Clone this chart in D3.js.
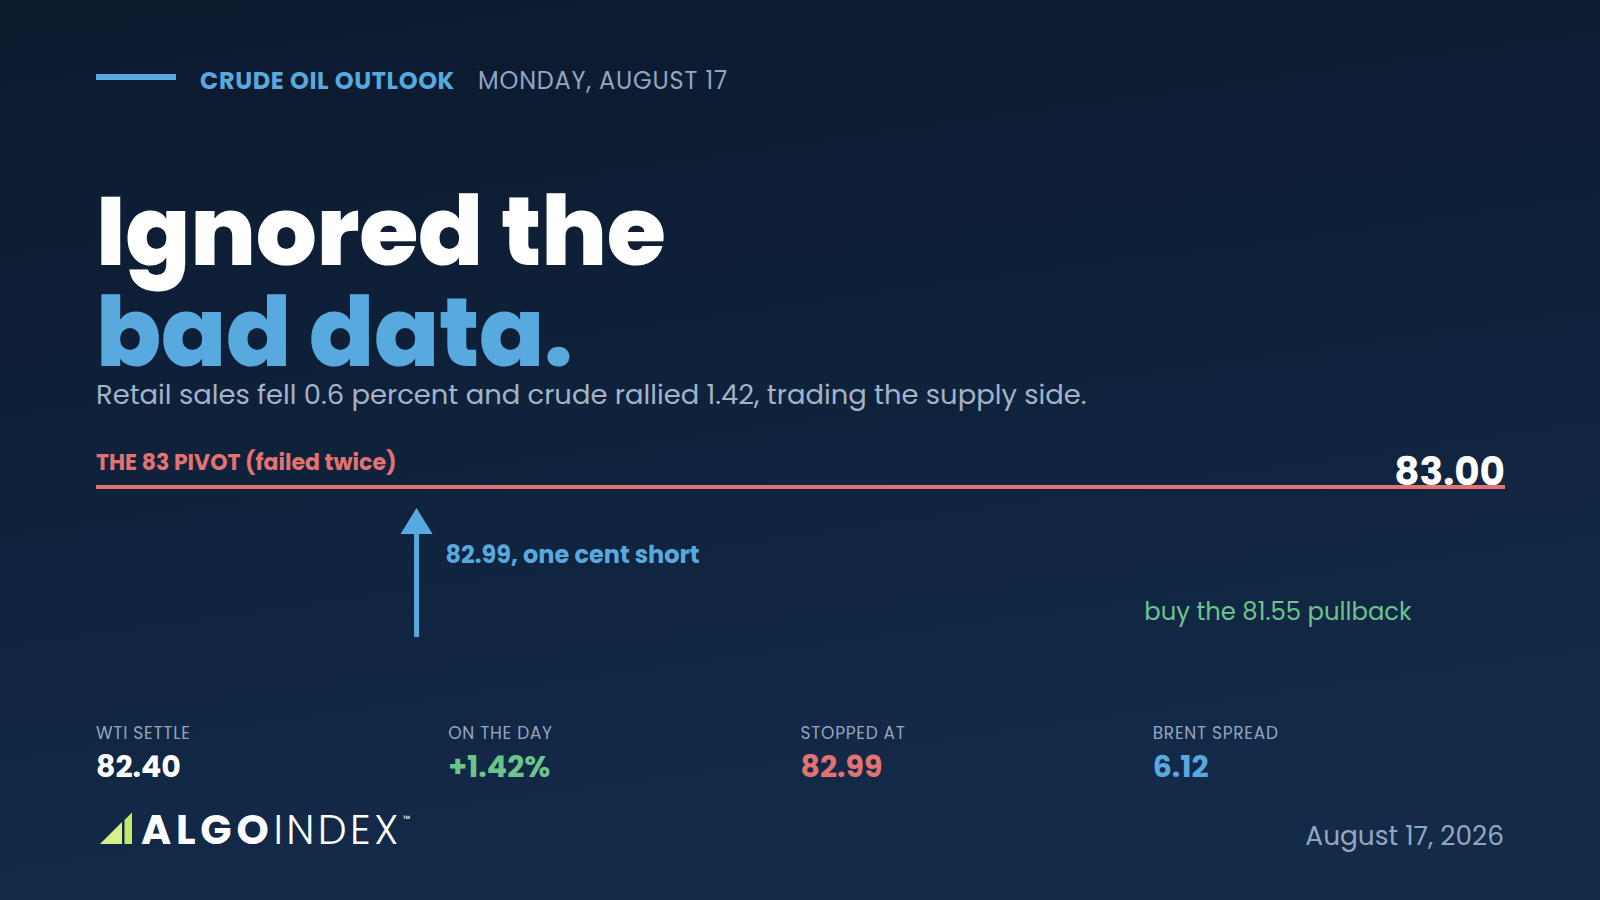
<!DOCTYPE html>
<html>
<head>
<meta charset="utf-8">
<script src="https://cdn.jsdelivr.net/npm/d3@7"></script>
<style>
  html, body { margin: 0; padding: 0; background: #0c1a2e; }
  svg { display: block; }
  text { font-family: "Poppins", "Inter", "Lato", sans-serif; }
</style>
</head>
<body>
<script>
// card content
var kicker = "CRUDE OIL OUTLOOK";
var dateline = "MONDAY, AUGUST 17";
var headline = ["Ignored the", "bad data."];
var dek = "Retail sales fell 0.6 percent and crude rallied 1.42, trading the supply side.";

// price levels
var pivotLevel = 83.00;
var pivotLabel = "THE 83 PIVOT (failed twice)";
var stopLevel = 82.99;
var stopLabel = "82.99, one cent short";
var pullbackLevel = 81.55;
var pullbackLabel = "buy the 81.55 pullback";
var priceDomain = [81.4, 83.0];
// where the annotations sit along the session (0-100)
var stopAt = 22.75;
var pullbackAt = 74.4;

// stat strip
var statLabels = ["WTI SETTLE", "ON THE DAY", "STOPPED AT", "BRENT SPREAD"];
var statValues = ["82.40", "+1.42%", "82.99", "6.12"];

var footDate = "August 17, 2026";

var _width = 1600, _height = 900,
    _margins = {left: 96, right: 95},
    blue = "#58a9de", coral = "#e37370", green = "#6cc48c",
    muted = "#93a6c0";

var svg = d3.select("body").append("svg")
    .attr("width", _width)
    .attr("height", _height);

var defs = svg.append("defs");
var grad = defs.append("linearGradient")
    .attr("id", "bg")
    .attr("x1", 0).attr("y1", 0).attr("x2", 0.25).attr("y2", 1);
grad.append("stop").attr("offset", "0%").attr("stop-color", "#0b192d");
grad.append("stop").attr("offset", "100%").attr("stop-color", "#132a49");

svg.append("rect")
    .attr("width", _width)
    .attr("height", _height)
    .attr("fill", "url(#bg)");

// header
svg.append("rect")
    .attr("x", _margins.left).attr("y", 74)
    .attr("width", 80).attr("height", 6)
    .attr("fill", blue);

svg.append("text")
    .attr("x", 200).attr("y", 89)
    .attr("font-size", 24).attr("font-weight", 700)
    .attr("letter-spacing", 0.6)
    .attr("fill", blue)
    .text(kicker);

svg.append("text")
    .attr("x", 478).attr("y", 89)
    .attr("font-size", 24).attr("font-weight", 400)
    .attr("letter-spacing", 0.8)
    .attr("fill", muted)
    .text(dateline);

// headline
svg.append("text")
    .attr("x", 96).attr("y", 265)
    .attr("font-size", 96).attr("font-weight", 800)
    .attr("letter-spacing", -0.3)
    .attr("fill", "#ffffff")
    .text(headline[0]);

svg.append("text")
    .attr("x", 96).attr("y", 366)
    .attr("font-size", 96).attr("font-weight", 800)
    .attr("letter-spacing", -0.3)
    .attr("fill", blue)
    .text(headline[1]);

svg.append("text")
    .attr("x", _margins.left).attr("y", 404)
    .attr("font-size", 27.4).attr("font-weight", 400)
    .attr("fill", "#a3b3c8")
    .text(dek);

// price scale
var x = d3.scaleLinear()
    .domain([0, 100])
    .range([_margins.left, _width - _margins.right]);

var y = d3.scaleLinear()
    .domain(priceDomain)
    .range([637, 487]);

var chartG = svg.append("g").attr("class", "levels");

chartG.append("line")
    .attr("x1", x(0)).attr("x2", x(100))
    .attr("y1", y(pivotLevel)).attr("y2", y(pivotLevel))
    .attr("stroke", coral)
    .attr("stroke-width", 4);

chartG.append("text")
    .attr("x", x(0)).attr("y", y(pivotLevel) - 17)
    .attr("font-size", 22).attr("font-weight", 700)
    .attr("fill", coral)
    .text(pivotLabel);

chartG.append("text")
    .attr("x", x(100)).attr("y", y(pivotLevel) - 2)
    .attr("text-anchor", "end")
    .attr("font-size", 39).attr("font-weight", 700)
    .attr("fill", "#ffffff")
    .text(d3.format(".2f")(pivotLevel));

// arrow up to the stop level
var arrowX = x(stopAt),
    tipY = y(stopLevel) + 20,
    baseY = y(priceDomain[0]),
    headH = 26, headW = 32;

chartG.append("rect")
    .attr("x", arrowX - 2.5).attr("y", tipY + headH - 1)
    .attr("width", 5).attr("height", baseY - tipY - headH + 1)
    .attr("fill", blue);

chartG.append("path")
    .attr("d", d3.line()([
        [arrowX - headW / 2, tipY + headH],
        [arrowX, tipY],
        [arrowX + headW / 2, tipY + headH]
    ]) + "Z")
    .attr("fill", blue);

chartG.append("text")
    .attr("x", arrowX + 29).attr("y", tipY + 55)
    .attr("font-size", 24).attr("font-weight", 700)
    .attr("fill", blue)
    .text(stopLabel);

chartG.append("text")
    .attr("x", x(pullbackAt)).attr("y", y(pullbackLevel) - 3)
    .attr("font-size", 24.3).attr("font-weight", 400)
    .attr("fill", green)
    .text(pullbackLabel);

// stat strip
var statColors = ["#ffffff", green, coral, blue];
var band = d3.scaleBand()
    .domain(statLabels)
    .range([_margins.left, _width - _margins.right]);

var stat = svg.append("g").attr("class", "stats")
    .selectAll("g")
    .data(statLabels)
    .enter().append("g")
    .attr("transform", function (d) {
        return "translate(" + band(d) + ",0)";
    });

stat.append("text")
    .attr("y", 739)
    .attr("font-size", 17).attr("font-weight", 400)
    .attr("letter-spacing", 0.7)
    .attr("fill", muted)
    .text(function (d) { return d; });

stat.append("text")
    .attr("y", 777)
    .attr("font-size", 30).attr("font-weight", 700)
    .attr("fill", function (d, i) { return statColors[i]; })
    .text(function (d, i) { return statValues[i]; });

// logo
var logo = svg.append("g").attr("class", "logo");
logo.append("path")
    .attr("d", "M100,844L122,822L122,844Z")
    .attr("fill", "#d6f08c");
logo.append("path")
    .attr("d", "M124.5,844L124.5,820L132,812.5L132,844Z")
    .attr("fill", "#c3e76a");
var logoText = logo.append("text")
    .attr("x", 141).attr("y", 844)
    .attr("font-size", 41)
    .attr("fill", "#ffffff")
    .attr("font-family", "Montserrat, Inter, sans-serif");
logoText.append("tspan").attr("font-weight", 700).attr("letter-spacing", 4.8).text("ALGO");
logoText.append("tspan").attr("font-weight", 300).attr("letter-spacing", 3.4).text("INDEX");
logo.append("text")
    .attr("x", 403).attr("y", 822)
    .attr("font-size", 9)
    .attr("fill", "#ffffff")
    .text("\u2122");

svg.append("text")
    .attr("x", x(100) - 1).attr("y", 845)
    .attr("text-anchor", "end")
    .attr("font-size", 26.4).attr("font-weight", 400)
    .attr("fill", muted)
    .text(footDate);
</script>
</body>
</html>
